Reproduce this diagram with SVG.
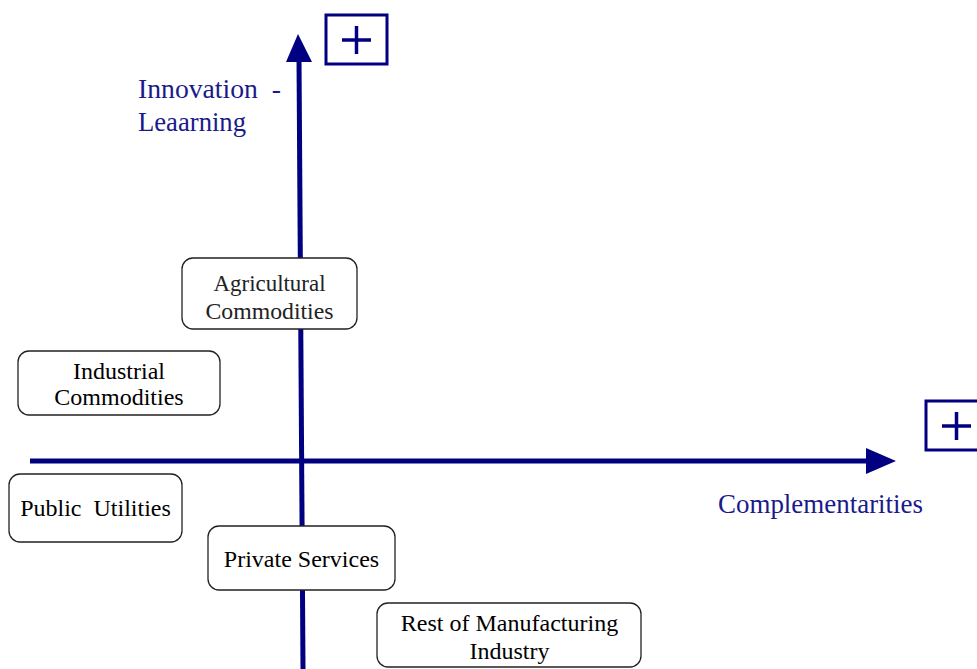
<svg xmlns="http://www.w3.org/2000/svg" width="977" height="669" viewBox="0 0 977 669">
<style>
.ax{stroke:#000080;stroke-width:5;fill:none}
.head{fill:#000080}
.plus{fill:#fff;stroke:#000080;stroke-width:3}
.pl{stroke:#000080;stroke-width:3.5;fill:none}
.box{fill:#fff;stroke:#222;stroke-width:1.3}
.t{font-family:"Liberation Serif",serif;font-size:24px;fill:#000;text-anchor:middle}
.g{font-size:23px;fill:#222}
.lab{font-family:"Liberation Serif",serif;font-size:27px;fill:#1a1a8c}
</style>
<rect width="977" height="669" fill="#fff"/>
<g id="connectors">
<path class="ax" d="M303,669 L299,58"/>
<polygon class="head" points="298,34 286,62 312,62"/>
<path class="ax" d="M30,461 L870,461"/>
<polygon class="head" points="896,461 866,448 866,474"/>
</g>
<g id="plus-y">
<rect class="plus" x="326" y="15" width="61" height="49"/>
<path class="pl" d="M342,40 H371 M356.5,26 V54"/>
</g>
<g id="plus-x">
<rect class="plus" x="926" y="401" width="56" height="49"/>
<path class="pl" d="M942,426 H971 M956.5,412 V440"/>
</g>
<g id="label-y">
<text class="lab" x="138" y="98" textLength="143" lengthAdjust="spacingAndGlyphs" xml:space="preserve">Innovation  -</text>
<text class="lab" x="138" y="131" textLength="108" lengthAdjust="spacingAndGlyphs">Leaarning</text>
</g>
<g id="label-x">
<text class="lab" x="718" y="513" textLength="205" lengthAdjust="spacingAndGlyphs">Complementarities</text>
</g>
<g id="agri">
<rect class="box" x="182" y="258" width="175" height="71" rx="11"/>
<text class="t g" x="269.5" y="291" textLength="112" lengthAdjust="spacingAndGlyphs">Agricultural</text>
<text class="t g" x="269.5" y="319" textLength="128" lengthAdjust="spacingAndGlyphs">Commodities</text>
</g>
<g id="industrial">
<rect class="box" x="18" y="351" width="202" height="64" rx="11"/>
<text class="t" x="119" y="379">Industrial</text>
<text class="t" x="119" y="405">Commodities</text>
</g>
<g id="public">
<rect class="box" x="9" y="474" width="173" height="68" rx="11"/>
<text class="t" x="95.5" y="516" xml:space="preserve">Public  Utilities</text>
</g>
<g id="private">
<rect class="box" x="208" y="526" width="187" height="64" rx="11"/>
<text class="t" x="301.5" y="567">Private Services</text>
</g>
<g id="rest">
<rect class="box" x="377" y="603" width="264" height="64" rx="11"/>
<text class="t" x="509.5" y="631">Rest of Manufacturing</text>
<text class="t" x="509.5" y="659">Industry</text>
</g>
</svg>
